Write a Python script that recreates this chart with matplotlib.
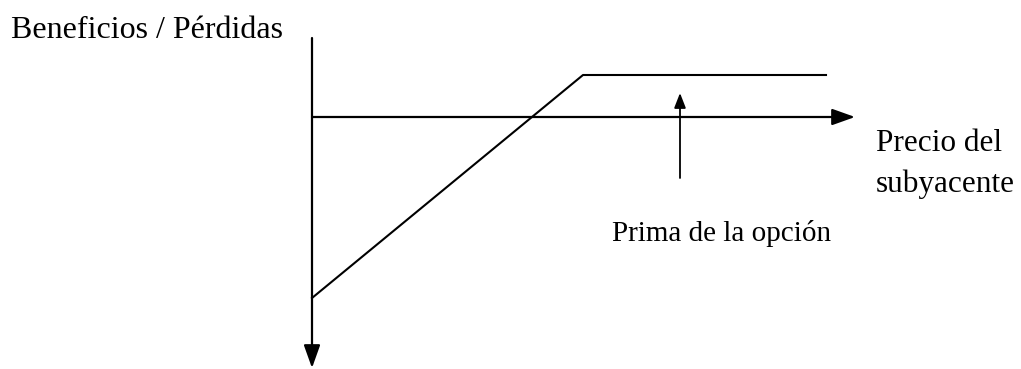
import matplotlib.pyplot as plt

# payoff diagram, coordinates relative to where the axes cross
precio = [0, 271, 514]
beneficio = [-181, 42, 42]

eje_x = [0, 543]
eje_y = [79, -251]
prima_x = 368
prima_y = [-61, 24]

plt.rcParams['font.family'] = ['Liberation Serif', 'DejaVu Serif']

fig = plt.figure(figsize=(10.21, 3.69), dpi=100)
ax = fig.add_axes([0, 0, 1, 1])
ax.set_xlim(-312, 1021 - 312)
ax.set_ylim(117 - 369, 117)
ax.axis('off')

flecha = dict(arrowstyle='-|>,head_length=1.4,head_width=0.5', color='black', lw=1.6,
              shrinkA=0, shrinkB=0)
# horizontal axis
ax.annotate('', xy=(eje_x[1], 0), xytext=(eje_x[0], 0), arrowprops=flecha)
# vertical axis, pointing down
ax.annotate('', xy=(0, eje_y[1]), xytext=(0, eje_y[0]), arrowprops=flecha)
# arrow to the premium
flecha2 = dict(arrowstyle='-|>,head_length=0.9,head_width=0.35', color='black', lw=1.3,
               shrinkA=0, shrinkB=0)
ax.annotate('', xy=(prima_x, prima_y[1]), xytext=(prima_x, prima_y[0]), arrowprops=flecha2)

ax.plot(precio, beneficio, color='black', lw=1.5)

ax.text(-301, 87, 'Beneficios / Pérdidas', fontsize=23, va='center', ha='left')
ax.text(564, -27, 'Precio del', fontsize=22.5, va='center', ha='left')
ax.text(564, -67, 'subyacente', fontsize=22.5, va='center', ha='left')
ax.text(300, -117, 'Prima de la opción', fontsize=21, va='center', ha='left')

fig.savefig('out.png', dpi=100)
